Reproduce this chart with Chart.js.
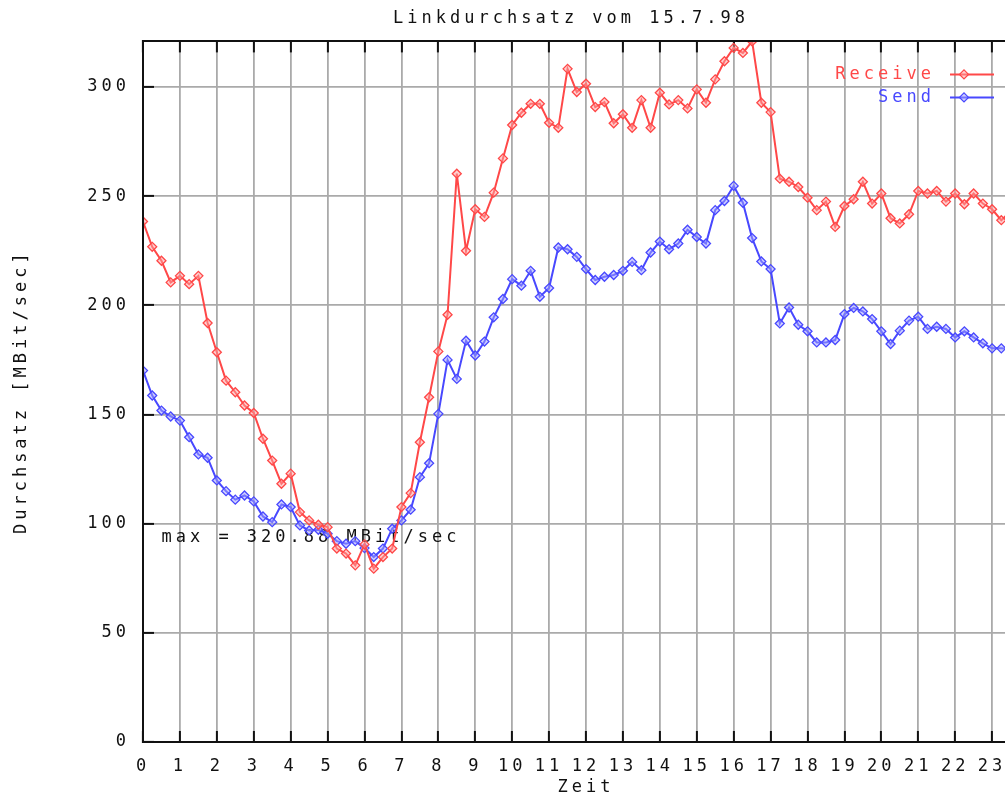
<!DOCTYPE html>
<html>
<head>
<meta charset="utf-8">
<title>Linkdurchsatz vom 15.7.98</title>
<script src="https://cdn.jsdelivr.net/npm/chart.js@4/dist/chart.umd.min.js"></script>
<style>
  html, body { margin: 0; padding: 0; background: #fff; overflow: hidden; }
  #wrap { position: relative; width: 1142px; height: 796px; }
</style>
</head>
<body>
<div id="wrap"><canvas id="durchsatz"></canvas></div>
<script>
// Messwerte alle 15 Minuten, beginnend bei 0:00 (MBit/sec)
const STEP_H = 0.25;

const receive = [
  238.4, 226.8, 220.4, 210.5, 213.5, 209.7, 213.5, 191.9,
  178.5, 165.5, 160.2, 154.1, 150.7, 138.9, 128.9, 118.3,
  122.9, 105.3, 101.5, 99.5, 98.4, 88.6, 86.3, 80.9,
  90.5, 79.4, 84.7, 88.6, 107.6, 114.0, 137.3, 157.9,
  178.9, 195.7, 260.3, 225.0, 244.0, 240.5, 251.6, 267.3,
  282.6, 288.2, 292.3, 292.3, 283.6, 281.3, 308.3, 297.7,
  301.5, 290.8, 293.1, 283.4, 287.5, 281.3, 294.0, 281.3,
  297.4, 292.0, 294.0, 290.2, 298.9, 292.8, 303.5, 311.8,
  317.9, 315.6, 320.88, 292.8, 288.5, 258.0, 256.6, 254.2,
  249.3, 243.6, 247.5, 235.9, 245.5, 248.6, 256.6, 246.6,
  251.2, 239.9, 237.5, 241.7, 252.4, 251.2, 252.4, 247.5,
  251.2, 246.3, 251.2, 246.6, 244.0, 239.0, 243.0, 242.0
];

const send = [
  170.1, 158.7, 151.8, 149.1, 147.2, 139.6, 131.7, 130.2,
  119.8, 114.9, 111.0, 112.9, 110.2, 103.3, 100.7, 108.8,
  107.6, 99.2, 96.9, 97.2, 95.4, 92.0, 90.8, 92.0,
  88.8, 84.7, 88.6, 97.7, 101.5, 106.4, 121.3, 127.7,
  150.3, 175.0, 166.3, 183.8, 177.0, 183.4, 194.5, 202.9,
  212.0, 209.0, 215.8, 203.9, 207.9, 226.5, 225.7, 222.2,
  216.6, 211.6, 213.1, 213.9, 215.8, 219.9, 216.1, 224.2,
  229.2, 225.7, 228.3, 234.6, 231.3, 228.3, 243.6, 247.8,
  254.7, 247.0, 230.8, 220.1, 216.6, 191.7, 199.0, 191.1,
  188.1, 183.0, 183.0, 184.1, 196.0, 198.8, 197.2, 193.7,
  188.1, 182.3, 188.4, 193.0, 194.8, 189.2, 190.2, 189.2,
  185.3, 188.1, 185.3, 182.6, 180.3, 180.3, 180.0, 179.0
];

const seriesNames = ['Receive', 'Send'];
const xTicks = [0, 24];          // Zeitachse in Stunden
const yTicks = [0, 50, 320.88];  // Schrittweite 50, Maximum = Spitzenwert

const RED = 'rgb(255, 72, 72)';
const BLUE = 'rgb(72, 72, 255)';
const INK = '#111';
const MONO = '"DejaVu Sans Mono", "Liberation Mono", monospace';
const SPACING = '4px';

const toPoints = vals => vals.map((v, i) => ({ x: i * STEP_H, y: v }));

// gnuplot-artige Schrift: breite Zeichenabstaende
const spacingPlugin = {
  id: 'spacing',
  beforeLayout(chart) { chart.ctx.letterSpacing = SPACING; },
  beforeDraw(chart) { chart.ctx.letterSpacing = SPACING; }
};

// Beschriftung "max = ..." und Legende innerhalb des Plots
const annotPlugin = {
  id: 'annot',
  beforeDatasetsDraw(chart) {
    const { ctx, scales } = chart;
    const peak = Math.max(...receive, ...send);
    ctx.save();
    ctx.letterSpacing = SPACING;
    ctx.font = '17px ' + MONO;
    ctx.fillStyle = INK;
    ctx.textAlign = 'left';
    ctx.textBaseline = 'middle';
    ctx.fillText('max = ' + peak.toFixed(2) + ' MBit/sec',
      scales.x.getPixelForValue(0.5), scales.y.getPixelForValue(93.5));
    ctx.restore();
  },
  afterDatasetsDraw(chart) {
    const { ctx, chartArea } = chart;
    ctx.save();
    ctx.letterSpacing = SPACING;
    ctx.font = '17px ' + MONO;
    ctx.textAlign = 'right';
    ctx.textBaseline = 'middle';
    chart.data.datasets.forEach((ds, i) => {
      const y = chartArea.top + 33 + i * 23;
      ctx.fillStyle = ds.borderColor;
      ctx.fillText(ds.label, chartArea.right - 94, y);
      ctx.strokeStyle = ds.borderColor;
      ctx.lineWidth = 2;
      ctx.beginPath();
      ctx.moveTo(chartArea.right - 79, y);
      ctx.lineTo(chartArea.right - 35, y);
      ctx.stroke();
      ctx.fillStyle = ds.backgroundColor;
      ctx.lineWidth = ds.pointBorderWidth;
      Chart.helpers.drawPoint(ctx, {
        pointStyle: 'rectRot', radius: ds.pointRadius, rotation: 0,
        borderWidth: ds.pointBorderWidth
      }, chartArea.right - 65, y);
    });
    ctx.restore();
  }
};

const gridStyle = {
  color: '#aaaaaa',
  lineWidth: 1.8,
  tickLength: -11,
  tickColor: INK,
  tickWidth: 2
};
const borderStyle = { display: true, color: INK, width: 2, z: 1 };
const tickFont = { family: MONO, size: 17 };

const ctx = document.getElementById('durchsatz');

new Chart(ctx, {
  type: 'line',
  data: {
    datasets: [
      {
        label: seriesNames[0],
        data: toPoints(receive),
        xAxisID: 'x',
        yAxisID: 'y',
        borderColor: RED,
        backgroundColor: 'rgba(255, 160, 160, 0.5)',
        borderWidth: 2,
        pointStyle: 'rectRot',
        pointRadius: 4.5,
        pointBorderWidth: 1.3,
        tension: 0
      },
      {
        label: seriesNames[1],
        data: toPoints(send),
        xAxisID: 'x',
        yAxisID: 'y',
        borderColor: BLUE,
        backgroundColor: 'rgba(160, 160, 255, 0.5)',
        borderWidth: 2,
        pointStyle: 'rectRot',
        pointRadius: 4.5,
        pointBorderWidth: 1.3,
        tension: 0
      }
    ]
  },
  options: {
    responsive: true,
    maintainAspectRatio: false,
    animation: false,
    layout: { padding: 0 },
    plugins: {
      legend: { display: false },
      tooltip: { enabled: false },
      title: {
        display: true,
        text: 'Linkdurchsatz vom 15.7.98',
        color: INK,
        font: { family: MONO, size: 17, weight: 'normal', lineHeight: 1.2 },
        padding: { top: 8, bottom: 13 }
      }
    },
    scales: {
      x: {
        type: 'linear',
        position: 'bottom',
        min: xTicks[0],
        max: xTicks[1],
        afterFit: s => { s.height = 54; },
        ticks: {
          stepSize: 1,
          color: INK,
          padding: 25,
          maxRotation: 0,
          autoSkip: false,
          font: tickFont,
          callback: v => (v < xTicks[1] ? String(v) : '')
        },
        grid: gridStyle,
        border: borderStyle,
        title: {
          display: true,
          text: 'Zeit',
          color: INK,
          font: { family: MONO, size: 17, lineHeight: 1 },
          padding: { top: 0, bottom: 0 }
        }
      },
      // obere Rahmenlinie mit Teilstrichen
      x2: {
        type: 'linear',
        position: 'top',
        min: xTicks[0],
        max: xTicks[1],
        afterFit: s => { s.height = 0; },
        ticks: { stepSize: 1, display: false },
        grid: { ...gridStyle, drawOnChartArea: false },
        border: borderStyle
      },
      y: {
        type: 'linear',
        position: 'left',
        min: yTicks[0],
        max: yTicks[2],
        afterFit: s => { s.width = 143; },
        ticks: {
          stepSize: yTicks[1],
          includeBounds: false,
          color: INK,
          padding: 24,
          font: tickFont
        },
        grid: gridStyle,
        border: borderStyle,
        title: {
          display: true,
          text: 'Durchsatz [MBit/sec]',
          color: INK,
          font: { family: MONO, size: 17, lineHeight: 1 },
          padding: { top: 13, bottom: 0 }
        }
      },
      // rechter Rand (ausserhalb des sichtbaren Bereichs)
      y2: {
        type: 'linear',
        position: 'right',
        min: yTicks[0],
        max: yTicks[2],
        afterFit: s => { s.width = 113; },
        ticks: { display: false },
        grid: { drawOnChartArea: false, drawTicks: false },
        border: { display: false }
      }
    }
  },
  plugins: [spacingPlugin, annotPlugin]
});
</script>
</body>
</html>
